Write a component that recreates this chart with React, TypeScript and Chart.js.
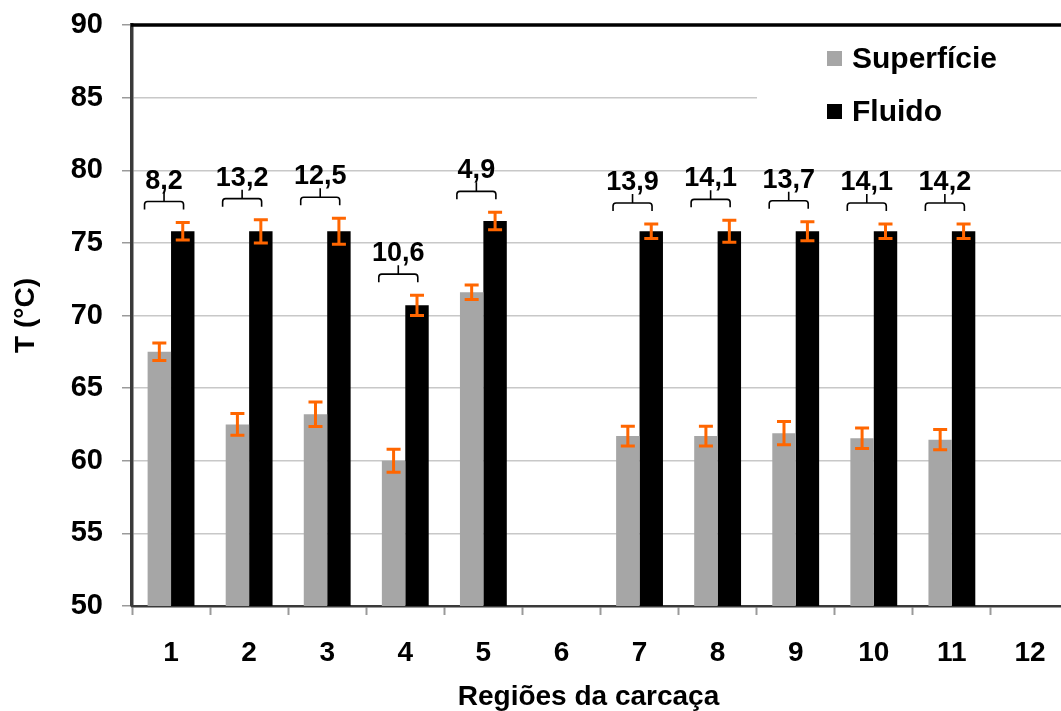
import React, { useEffect, useRef } from "react";
import { Chart, registerables } from "chart.js";

Chart.register(...registerables);

const categories = ["1", "2", "3", "4", "5", "6", "7", "8", "9", "10", "11", "12"];
const superficie = [67.5, 62.5, 63.2, 60.0, 71.6, null, 61.7, 61.7, 61.9, 61.55, 61.45, null];
const superficieErr = [0.6, 0.75, 0.85, 0.8, 0.5, null, 0.68, 0.68, 0.8, 0.7, 0.7, null];
const fluido = [75.8, 75.8, 75.8, 70.7, 76.5, null, 75.8, 75.8, 75.8, 75.8, 75.8, null];
const fluidoErr = [0.6, 0.8, 0.9, 0.7, 0.6, null, 0.5, 0.75, 0.65, 0.5, 0.5, null];
const diffLabels = ["8,2", "13,2", "12,5", "10,6", "4,9", null, "13,9", "14,1", "13,7", "14,1", "14,2", null];
const yTicks = [50, 55, 60, 65, 70, 75, 80, 85, 90];

const seriesNames = ["Superfície", "Fluido"];
const seriesColors = ["#A6A6A6", "#000000"];
const xTitle = "Regiões da carcaça";
const yTitle = "T (°C)";
const FONT = "Arial, 'Liberation Sans', sans-serif";

const overlayPlugin = {
  id: "overlay",
  afterDatasetsDraw(chart: any) {
    const ctx = chart.ctx;
    const xs = chart.scales.x;
    const ys = chart.scales.y;
    const area = chart.chartArea;

    // error bars
    const errs = [superficieErr, fluidoErr];
    const vals = [superficie, fluido];
    ctx.save();
    ctx.strokeStyle = "#FF6600";
    ctx.lineWidth = 3;
    for (let d = 0; d < 2; d++) {
      const meta = chart.getDatasetMeta(d);
      meta.data.forEach((bar: any, i: number) => {
        const v = vals[d][i];
        const e = errs[d][i];
        if (v == null || e == null) return;
        const x = bar.x;
        const yTop = ys.getPixelForValue(v + e);
        const yBot = ys.getPixelForValue(v - e);
        ctx.beginPath();
        ctx.moveTo(x, yTop);
        ctx.lineTo(x, yBot);
        ctx.moveTo(x - 7, yTop);
        ctx.lineTo(x + 7, yTop);
        ctx.moveTo(x - 7, yBot);
        ctx.lineTo(x + 7, yBot);
        ctx.stroke();
      });
    }
    ctx.restore();

    // braces + difference labels
    ctx.save();
    ctx.strokeStyle = "#000";
    ctx.lineWidth = 1.6;
    ctx.fillStyle = "#000";
    ctx.font = `bold 27px ${FONT}`;
    ctx.textAlign = "center";
    ctx.textBaseline = "alphabetic";
    diffLabels.forEach((lab, i) => {
      if (!lab) return;
      const s = superficie[i] as number;
      const f = fluido[i] as number;
      const topVal = Math.max(s + (superficieErr[i] as number), f + (fluidoErr[i] as number));
      const endY = ys.getPixelForValue(topVal) - 13;
      const lineY = endY - 8;
      const tickY = lineY - 9;
      const cx = xs.getPixelForValue(i) - 7;
      const x1 = cx - 19.5;
      const x2 = cx + 19.5;
      ctx.beginPath();
      ctx.moveTo(x1, endY);
      ctx.lineTo(x1, lineY + 3);
      ctx.quadraticCurveTo(x1, lineY, x1 + 3, lineY);
      ctx.lineTo(x2 - 3, lineY);
      ctx.quadraticCurveTo(x2, lineY, x2, lineY + 3);
      ctx.lineTo(x2, endY);
      ctx.moveTo(cx, lineY);
      ctx.lineTo(cx, tickY);
      ctx.stroke();
      ctx.fillText(lab, cx, tickY - 4);
    });
    ctx.restore();

    // top border
    ctx.save();
    ctx.strokeStyle = "#000";
    ctx.lineWidth = 3.5;
    ctx.beginPath();
    ctx.moveTo(area.left - 1, area.top);
    ctx.lineTo(chart.width, area.top);
    ctx.stroke();
    ctx.restore();

    // legend
    ctx.save();
    ctx.fillStyle = "#fff";
    ctx.fillRect(757, area.top + 2, chart.width - 757, 118);
    ctx.font = `bold 30px ${FONT}`;
    ctx.textAlign = "left";
    ctx.textBaseline = "middle";
    seriesNames.forEach((name, k) => {
      const yMid = 58 + k * 53;
      ctx.fillStyle = seriesColors[k];
      ctx.fillRect(827, yMid - 7, 15, 15);
      ctx.fillStyle = "#000";
      ctx.fillText(name, 852, yMid + 2);
    });
    ctx.restore();

    // x axis title
    ctx.save();
    ctx.fillStyle = "#000";
    ctx.font = `bold 28px ${FONT}`;
    ctx.textAlign = "center";
    ctx.textBaseline = "alphabetic";
    ctx.fillText(xTitle, (area.left + area.right) / 2 - 12, 705);
    ctx.restore();
  },
};

export default function App() {
  const ref = useRef<HTMLCanvasElement | null>(null);
  useEffect(() => {
    if (!ref.current) return;
    const chart = new Chart(ref.current, {
      type: "bar",
      data: {
        labels: categories,
        datasets: [
          {
            label: seriesNames[0],
            data: superficie,
            backgroundColor: seriesColors[0],
            categoryPercentage: 0.6,
            barPercentage: 1.0,
          },
          {
            label: seriesNames[1],
            data: fluido,
            backgroundColor: seriesColors[1],
            categoryPercentage: 0.6,
            barPercentage: 1.0,
          },
        ],
      },
      options: {
        animation: false,
        responsive: false,
        maintainAspectRatio: false,
        layout: { padding: { top: 25, left: 0, right: 0, bottom: 0 } },
        plugins: { legend: { display: false }, tooltip: { enabled: false } },
        scales: {
          x: {
            offset: true,
            grid: {
              offset: true,
              drawOnChartArea: false,
              tickLength: 9,
              tickColor: "#9a9a9a",
              tickWidth: 2,
            },
            border: { color: "#3a3a3a", width: 2.5 },
            ticks: {
              color: "#000",
              font: { family: FONT, size: 28, weight: "bold" },
              padding: 21,
              maxRotation: 0,
              autoSkip: false,
            },
            title: { display: false },
            afterFit(axis: any) {
              axis.height = 105;
              axis.paddingLeft = 0;
              axis.paddingRight = 0;
            },
          },
          y: {
            min: 50,
            max: 90,
            afterBuildTicks(axis: any) {
              axis.ticks = yTicks.map((v) => ({ value: v }));
            },
            grid: {
              color: "#c8c8c8",
              lineWidth: 1.5,
              tickLength: 10,
              tickColor: "#9a9a9a",
              tickWidth: 1.5,
            },
            border: { color: "#3a3a3a", width: 3.5 },
            ticks: {
              color: "#000",
              font: { family: FONT, size: 29, weight: "bold" },
              padding: 19,
            },
            title: {
              display: true,
              text: yTitle,
              color: "#000",
              font: { family: FONT, size: 28, weight: "bold" },
              padding: { top: 9, bottom: 0 },
            },
            afterFit(axis: any) {
              axis.width = 132;
              axis.paddingTop = 0;
              axis.paddingBottom = 0;
            },
          },
        },
      },
      plugins: [overlayPlugin],
    } as any);
    return () => chart.destroy();
  }, []);
  return (
    <div style={{ position: "fixed", left: 0, top: 0, width: 1069, height: 711, background: "#fff" }}>
      <canvas ref={ref} width={1069} height={711} style={{ display: "block" }} />
    </div>
  );
}
